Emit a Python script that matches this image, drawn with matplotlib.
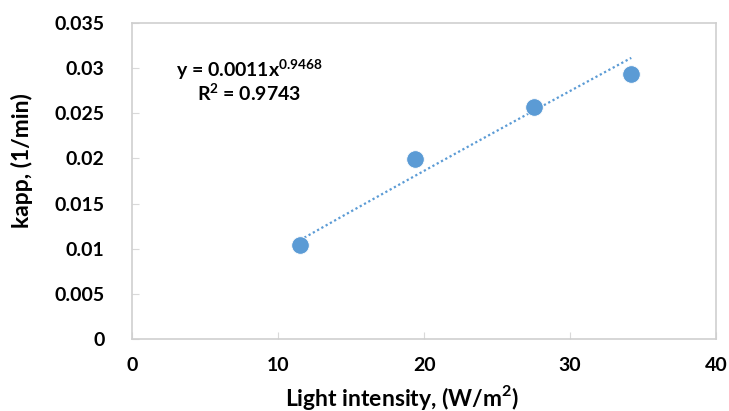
import numpy as np
import matplotlib
matplotlib.use("Agg")
import matplotlib.pyplot as plt

# data
light = [11.5, 19.4, 27.5, 34.2]
kapp = [0.0104, 0.0199, 0.0257, 0.0293]
eq_text = r"y = 0.0011x$^{\mathregular{0.9468}}$"
r2_text = r"R$^{\mathregular{2}}$ = 0.9743"

plt.rcParams["font.family"] = ["Lato", "DejaVu Sans"]
plt.rcParams["mathtext.fontset"] = "custom"
plt.rcParams["mathtext.rm"] = "Lato"

BLUE = "#5B9BD5"
GRID = "#D9D9D9"

fig = plt.figure(figsize=(7.29, 4.11), dpi=100)
ax = fig.add_axes([0.1815, 0.1745, 0.8005, 0.7703])

# power-law trendline fitted on log scale
b, log_a = np.polyfit(np.log(light), np.log(kapp), 1)
xs = np.linspace(min(light), max(light), 100)
ax.plot(xs, np.exp(log_a) * xs ** b, linestyle=(0, (1, 1.2)), color=BLUE, lw=1.6, zorder=2)

ax.scatter(light, kapp, s=160, color=BLUE, edgecolors="white", linewidths=0.6, zorder=3)

ax.set_xlim(0, 40)
ax.set_ylim(0, 0.035)
ax.set_xticks([0, 10, 20, 30, 40])
ax.set_yticks([0, 0.005, 0.01, 0.015, 0.02, 0.025, 0.03, 0.035])
ax.set_yticklabels(["0", "0.005", "0.01", "0.015", "0.02", "0.025", "0.03", "0.035"])
ax.tick_params(direction="in", length=5, color=GRID, labelsize=14)
ax.tick_params(axis="y", pad=20)
ax.tick_params(axis="x", pad=13)
for lbl in ax.get_xticklabels() + ax.get_yticklabels():
    lbl.set_fontweight("bold")
for sp in ax.spines.values():
    sp.set_color("#CFCFCF")
    sp.set_linewidth(1.2)

ax.set_xlabel(r"Light intensity, (W/m$^{\mathregular{2}}$)", fontsize=16.5, fontweight="bold", va="center")
ax.xaxis.set_label_coords(0.463, -0.185)
ax.set_ylabel("kapp, (1/min)", fontsize=16.5, fontweight="bold", va="center")
ax.yaxis.set_label_coords(-0.189, 0.563)

ax.text(8.0, 0.0298, eq_text, fontsize=14, fontweight="bold", ha="center", va="center")
ax.text(8.0, 0.0272, r2_text, fontsize=14, fontweight="bold", ha="center", va="center")

fig.savefig("out.png", dpi=100)
